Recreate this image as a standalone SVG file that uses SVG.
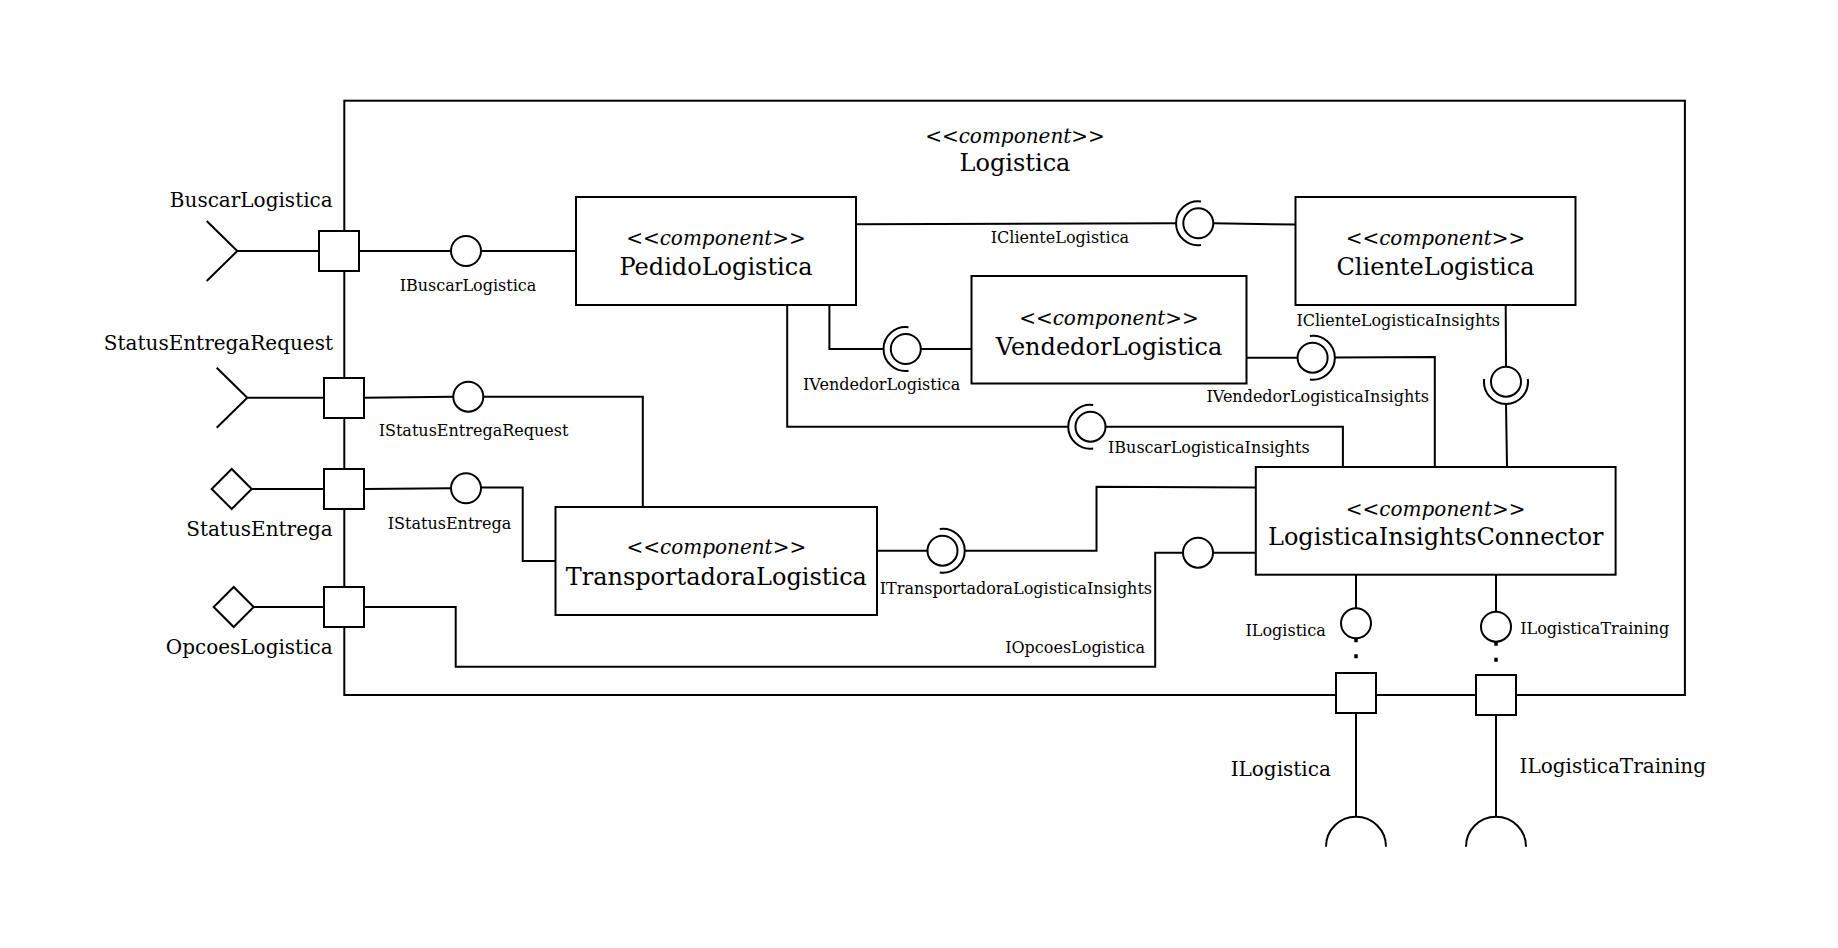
<svg xmlns="http://www.w3.org/2000/svg" width="1838" height="948" viewBox="0 0 1838 948">
<style>
  .ln{fill:none;stroke:#000;stroke-width:2}
  .dot{fill:none;stroke:#000;stroke-width:3.5;stroke-dasharray:4 12}
  .box{fill:#fff;stroke:#000;stroke-width:2}
  .ball{fill:#fff;stroke:#000;stroke-width:2}
  text{font-family:"DejaVu Serif","Liberation Serif",serif;fill:#000}
  .st{font-size:20px;font-style:italic;text-anchor:middle}
  .nm{font-size:24px;text-anchor:middle}
  .pl{font-size:20px}
  .il{font-size:16px}
  .e{text-anchor:end}
  .m{text-anchor:middle}
</style>
<rect width="1838" height="948" fill="#fff"/>

<!-- enclosing component -->
<g id="Logistica">
  <rect class="ln" x="344.3" y="100.7" width="1340.6" height="594.3"/>
  <text class="st" x="1015" y="142.5">&lt;&lt;component&gt;&gt;</text>
  <text class="nm" x="1015" y="170.5">Logistica</text>
</g>

<!-- connectors -->
<g id="connectors">
  <!-- BuscarLogistica -->
  <path class="ln" d="M206.7,221 L237.3,251 L206.7,281 M237.3,251 H319"/>
  <path class="ln" d="M359,251 H451 M481,251 H576"/>
  <!-- StatusEntregaRequest -->
  <path class="ln" d="M216.7,367.7 L247.3,397.7 L216.7,427.7 M247.3,397.7 H323.7"/>
  <path class="ln" d="M364,397.7 L453.3,396.7 M483.3,396.7 H642.8 V507"/>
  <!-- StatusEntrega -->
  <path class="ln" d="M251.7,489 H323.7 M364,489 L451,488.3 M481,487.5 H522.7 V561 H555.6"/>
  <!-- OpcoesLogistica -->
  <path class="ln" d="M253.7,607 H323.7 M364,607 H455.7 V666.7 H1155.2 V552.7 H1183 M1213,552.7 H1255.8"/>
  <!-- IClienteLogistica -->
  <path class="ln" d="M856,224.3 L1176.3,223.3 M1213.3,223.3 L1295.4,224.5"/>
  <path class="ln" d="M1201,201.5 A22,22 0 1,0 1201,245.1"/>
  <!-- IVendedorLogistica -->
  <path class="ln" d="M829.4,305 V349 H884 M920.8,349 H971.4"/>
  <path class="ln" d="M908.5,327.2 A22,22 0 1,0 908.5,370.8"/>
  <!-- IBuscarLogisticaInsights -->
  <path class="ln" d="M787.2,305 V426.7 H1068.5 M1105.5,426.7 H1342.9 V467"/>
  <path class="ln" d="M1093.2,404.9 A22,22 0 1,0 1093.2,448.5"/>
  <!-- IVendedorLogisticaInsights -->
  <path class="ln" d="M1246.5,357.7 H1297.6 M1334.6,357.5 L1434.8,357 V467"/>
  <path class="ln" d="M1309.9,335.9 A22,22 0 1,1 1309.9,379.5"/>
  <!-- IClienteLogisticaInsights -->
  <path class="ln" d="M1505.7,305 L1506,366.7 M1506,403.7 L1507,467"/>
  <path class="ln" d="M1484.2,379 A22,22 0 1,0 1527.8,379"/>
  <!-- ITransportadoraLogisticaInsights -->
  <path class="ln" d="M877,550.7 H927.5 M964.5,550.7 H1096.5 V486.7 L1255.8,487.5"/>
  <path class="ln" d="M939.8,528.9 A22,22 0 1,1 939.8,572.5"/>
  <!-- ILogistica -->
  <path class="ln" d="M1356,574.7 V608.3 M1356,713 V816.7"/>
  <path class="dot" d="M1356,638.3 V669"/>
  <path class="ln" d="M1326,846.7 A30,30 0 0,1 1386,846.7"/>
  <!-- ILogisticaTraining -->
  <path class="ln" d="M1496,574.7 V611.7 M1496,715 V816.7"/>
  <path class="dot" d="M1496,641.7 V671"/>
  <path class="ln" d="M1466,846.7 A30,30 0 0,1 1526,846.7"/>
</g>

<!-- provided interfaces (balls) -->
<g id="balls">
  <circle class="ball" cx="466" cy="251" r="15"/>
  <circle class="ball" cx="468.3" cy="396.7" r="15"/>
  <circle class="ball" cx="466" cy="488.3" r="15"/>
  <circle class="ball" cx="1198.3" cy="223.3" r="15"/>
  <circle class="ball" cx="905.8" cy="349" r="15"/>
  <circle class="ball" cx="1090.5" cy="426.7" r="15"/>
  <circle class="ball" cx="1312.6" cy="357.7" r="15"/>
  <circle class="ball" cx="1506" cy="381.7" r="15"/>
  <circle class="ball" cx="942.5" cy="550.7" r="15"/>
  <circle class="ball" cx="1198" cy="552.7" r="15"/>
  <circle class="ball" cx="1356" cy="623.3" r="15"/>
  <circle class="ball" cx="1496" cy="626.7" r="15"/>
</g>

<!-- interface labels -->
<g id="labels">
  <text class="il m" x="468" y="291">IBuscarLogistica</text>
  <text class="il m" x="473.5" y="436">IStatusEntregaRequest</text>
  <text class="il m" x="449.5" y="528.7">IStatusEntrega</text>
  <text class="il" x="990.8" y="242.7">IClienteLogistica</text>
  <text class="il m" x="881.7" y="390.3">IVendedorLogistica</text>
  <text class="il" x="1108" y="452.7">IBuscarLogisticaInsights</text>
  <text class="il m" x="1317.7" y="401.7">IVendedorLogisticaInsights</text>
  <text class="il" x="1296.4" y="326">IClienteLogisticaInsights</text>
  <text class="il" x="879.8" y="594.3">ITransportadoraLogisticaInsights</text>
  <text class="il e" x="1145" y="652.7">IOpcoesLogistica</text>
  <text class="il e" x="1325.7" y="636">ILogistica</text>
  <text class="il" x="1520.2" y="634.3">ILogisticaTraining</text>
</g>

<!-- ports -->
<g id="port-BuscarLogistica">
  <rect class="box" x="319" y="231" width="40" height="40"/>
  <text class="pl e" x="332.7" y="207">BuscarLogistica</text>
</g>
<g id="port-StatusEntregaRequest">
  <rect class="box" x="324" y="378" width="40" height="40"/>
  <text class="pl e" x="333" y="350.3">StatusEntregaRequest</text>
</g>
<g id="port-StatusEntrega">
  <polygon class="box" points="211.7,489 231.7,469 251.7,489 231.7,509"/>
  <rect class="box" x="324" y="469" width="40" height="40"/>
  <text class="pl e" x="332.7" y="536">StatusEntrega</text>
</g>
<g id="port-OpcoesLogistica">
  <polygon class="box" points="213.7,607 233.7,587 253.7,607 233.7,627"/>
  <rect class="box" x="324" y="587" width="40" height="40"/>
  <text class="pl e" x="332.7" y="654.3">OpcoesLogistica</text>
</g>
<g id="port-ILogistica">
  <rect class="box" x="1336" y="673" width="40" height="40"/>
  <text class="pl e" x="1330.9" y="776">ILogistica</text>
</g>
<g id="port-ILogisticaTraining">
  <rect class="box" x="1476" y="675" width="40" height="40"/>
  <text class="pl" x="1519.6" y="772.7">ILogisticaTraining</text>
</g>

<!-- inner components -->
<g id="PedidoLogistica">
  <rect class="box" x="576" y="197" width="280" height="108"/>
  <text class="st" x="716" y="245">&lt;&lt;component&gt;&gt;</text>
  <text class="nm" x="716" y="274.5">PedidoLogistica</text>
</g>
<g id="ClienteLogistica">
  <rect class="box" x="1295.5" y="197" width="280" height="108"/>
  <text class="st" x="1435.5" y="244.5">&lt;&lt;component&gt;&gt;</text>
  <text class="nm" x="1435.5" y="274.5">ClienteLogistica</text>
</g>
<g id="VendedorLogistica">
  <rect class="box" x="971.5" y="276" width="275" height="107.5"/>
  <text class="st" x="1109" y="325">&lt;&lt;component&gt;&gt;</text>
  <text class="nm" x="1109" y="354.5">VendedorLogistica</text>
</g>
<g id="TransportadoraLogistica">
  <rect class="box" x="555.5" y="507" width="321.5" height="108"/>
  <text class="st" x="716.3" y="554.3">&lt;&lt;component&gt;&gt;</text>
  <text class="nm" x="716.3" y="584.5">TransportadoraLogistica</text>
</g>
<g id="LogisticaInsightsConnector">
  <rect class="box" x="1255.8" y="467" width="359.8" height="107.7"/>
  <text class="st" x="1435.7" y="516">&lt;&lt;component&gt;&gt;</text>
  <text class="nm" x="1435.7" y="544.5">LogisticaInsightsConnector</text>
</g>
</svg>
